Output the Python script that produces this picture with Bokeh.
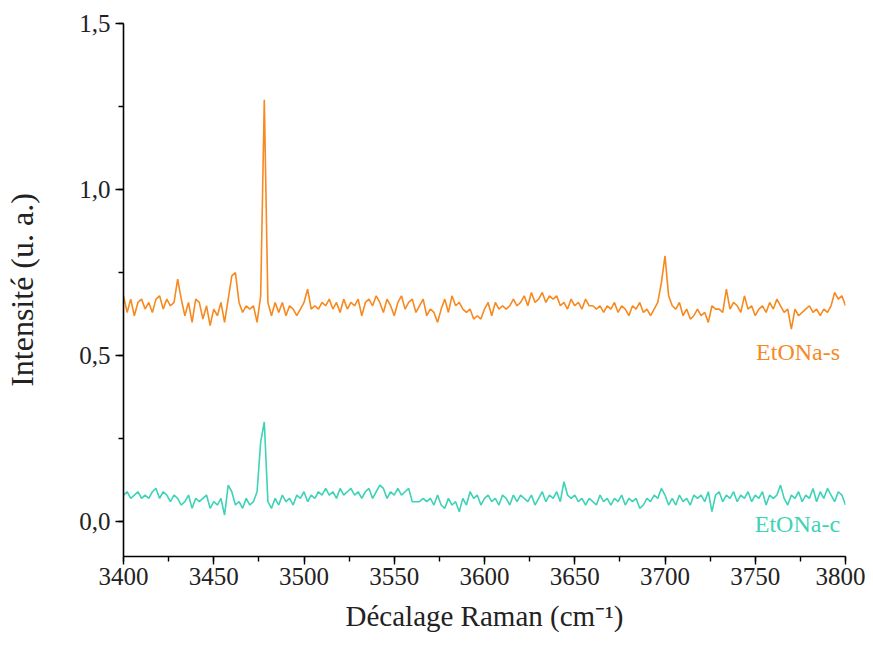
import numpy as np
from bokeh.plotting import figure
from bokeh.models import Range1d, SingleIntervalTicker, CustomJSTickFormatter, Label
from bokeh.embed import file_html
from bokeh.resources import INLINE

# Raman shift grid (cm-1), 2 cm-1 sampling
shift = np.arange(3400, 3801, 2)

# EtONa-s intensity (a.u.)
etona_s = [
    0.68, 0.63, 0.67, 0.62, 0.66, 0.67, 0.64, 0.66, 0.63, 0.67,
    0.68, 0.64, 0.67, 0.65, 0.66, 0.73, 0.67, 0.62, 0.66, 0.60,
    0.67, 0.66, 0.61, 0.65, 0.59, 0.64, 0.62, 0.66, 0.60, 0.67,
    0.74, 0.75, 0.66, 0.63, 0.65, 0.64, 0.65, 0.60, 0.68, 1.27,
    0.66, 0.62, 0.66, 0.63, 0.66, 0.62, 0.65, 0.64, 0.62, 0.64,
    0.66, 0.70, 0.64, 0.65, 0.64, 0.66, 0.65, 0.67, 0.64, 0.66,
    0.63, 0.67, 0.64, 0.66, 0.65, 0.67, 0.62, 0.66, 0.67, 0.65,
    0.68, 0.66, 0.63, 0.67, 0.65, 0.62, 0.66, 0.68, 0.64, 0.66,
    0.67, 0.63, 0.65, 0.67, 0.62, 0.64, 0.63, 0.60, 0.64, 0.67,
    0.63, 0.68, 0.65, 0.66, 0.64, 0.63, 0.64, 0.61, 0.62, 0.61,
    0.64, 0.66, 0.62, 0.66, 0.64, 0.65, 0.64, 0.65, 0.67, 0.65,
    0.66, 0.68, 0.65, 0.69, 0.66, 0.67, 0.69, 0.66, 0.68, 0.67,
    0.68, 0.65, 0.66, 0.64, 0.67, 0.65, 0.66, 0.64, 0.67, 0.65,
    0.65, 0.64, 0.65, 0.63, 0.65, 0.64, 0.66, 0.63, 0.65, 0.64,
    0.62, 0.65, 0.64, 0.66, 0.63, 0.64, 0.62, 0.64, 0.66, 0.72,
    0.80, 0.68, 0.65, 0.64, 0.66, 0.62, 0.64, 0.61, 0.62, 0.64,
    0.62, 0.63, 0.60, 0.65, 0.64, 0.64, 0.63, 0.70, 0.64, 0.66,
    0.65, 0.63, 0.68, 0.64, 0.65, 0.62, 0.64, 0.65, 0.63, 0.66,
    0.64, 0.67, 0.65, 0.63, 0.64, 0.58, 0.64, 0.62, 0.63, 0.64,
    0.65, 0.63, 0.64, 0.62, 0.64, 0.63, 0.65, 0.69, 0.67, 0.68,
    0.65,
]

# EtONa-c intensity (a.u.)
etona_c = [
    0.08, 0.09, 0.07, 0.08, 0.09, 0.07, 0.08, 0.07, 0.09, 0.10,
    0.07, 0.09, 0.08, 0.06, 0.08, 0.07, 0.05, 0.06, 0.08, 0.04,
    0.07, 0.06, 0.07, 0.08, 0.04, 0.06, 0.05, 0.07, 0.02, 0.11,
    0.09, 0.05, 0.06, 0.04, 0.07, 0.05, 0.06, 0.09, 0.24, 0.30,
    0.06, 0.04, 0.07, 0.05, 0.08, 0.06, 0.07, 0.05, 0.08, 0.07,
    0.09, 0.06, 0.08, 0.07, 0.09, 0.08, 0.10, 0.08, 0.09, 0.07,
    0.10, 0.08, 0.09, 0.10, 0.08, 0.09, 0.07, 0.09, 0.10, 0.07,
    0.09, 0.11, 0.10, 0.07, 0.09, 0.08, 0.10, 0.08, 0.09, 0.10,
    0.06, 0.06, 0.06, 0.07, 0.06, 0.07, 0.05, 0.08, 0.05, 0.04,
    0.07, 0.05, 0.06, 0.03, 0.07, 0.05, 0.09, 0.07, 0.08, 0.05,
    0.07, 0.08, 0.06, 0.07, 0.05, 0.08, 0.07, 0.05, 0.08, 0.06,
    0.08, 0.07, 0.06, 0.08, 0.05, 0.07, 0.09, 0.06, 0.08, 0.07,
    0.09, 0.06, 0.12, 0.08, 0.07, 0.08, 0.06, 0.07, 0.05, 0.07,
    0.06, 0.05, 0.08, 0.06, 0.07, 0.05, 0.07, 0.06, 0.08, 0.05,
    0.07, 0.06, 0.07, 0.04, 0.05, 0.07, 0.06, 0.08, 0.07, 0.10,
    0.08, 0.05, 0.07, 0.05, 0.08, 0.06, 0.07, 0.05, 0.08, 0.07,
    0.08, 0.06, 0.09, 0.03, 0.08, 0.09, 0.06, 0.08, 0.07, 0.09,
    0.06, 0.08, 0.07, 0.09, 0.06, 0.08, 0.07, 0.09, 0.05, 0.08,
    0.07, 0.08, 0.11, 0.07, 0.05, 0.08, 0.07, 0.09, 0.06, 0.08,
    0.07, 0.10, 0.06, 0.09, 0.07, 0.10, 0.08, 0.06, 0.09, 0.08,
    0.05,
]

series_names = ["EtONa-s", "EtONa-c"]

ORANGE = "#F7891F"
TEAL = "#3ED3B6"
FONT = "Liberation Serif"
TXT = "#222222"

p = figure(width=865, height=644,
           x_range=Range1d(3400, 3800), y_range=Range1d(-0.105, 1.5),
           output_backend="svg", toolbar_location=None,
           min_border_left=123, min_border_right=20,
           min_border_top=23, min_border_bottom=88)

p.line(shift, etona_s, line_color=ORANGE, line_width=1.6)
p.line(shift, etona_c, line_color=TEAL, line_width=1.6)

p.grid.visible = False
p.outline_line_color = None
p.background_fill_color = "white"
p.border_fill_color = "white"

p.xaxis.ticker = SingleIntervalTicker(interval=50, num_minor_ticks=2)
p.yaxis.ticker = SingleIntervalTicker(interval=0.5, num_minor_ticks=2)
p.yaxis.formatter = CustomJSTickFormatter(code="return tick.toFixed(1).replace('.', ',');")

for ax in (p.xaxis[0], p.yaxis[0]):
    ax.axis_line_color = "black"
    ax.axis_line_width = 1.6
    ax.major_tick_line_color = "black"
    ax.minor_tick_line_color = "black"
    ax.major_tick_line_width = 1.4
    ax.minor_tick_line_width = 1.4
    ax.major_tick_out = 8
    ax.major_tick_in = 0
    ax.minor_tick_out = 5
    ax.minor_tick_in = 0
    ax.major_label_text_font = FONT
    ax.major_label_text_font_size = "25px"
    ax.major_label_text_color = TXT
    ax.axis_label_text_font = FONT
    ax.axis_label_text_font_style = "normal"
    ax.axis_label_text_color = TXT

p.xaxis.axis_label = "Décalage Raman (cm⁻¹)"
p.yaxis.axis_label = "Intensité (u. a.)"
p.xaxis.axis_label_text_font_size = "29px"
p.yaxis.axis_label_text_font_size = "32px"
p.xaxis.major_label_standoff = 3
p.yaxis.major_label_standoff = 5
p.xaxis.axis_label_standoff = 12
p.yaxis.axis_label_standoff = 36

p.add_layout(Label(x=3797, y=0.512, text=series_names[0], text_color=ORANGE,
                   text_font=FONT, text_font_size="24px",
                   text_align="right", text_baseline="middle"))
p.add_layout(Label(x=3797, y=-0.006, text=series_names[1], text_color=TEAL,
                   text_font=FONT, text_font_size="24px",
                   text_align="right", text_baseline="middle"))

open("out.html", "w").write(file_html(p, INLINE))
